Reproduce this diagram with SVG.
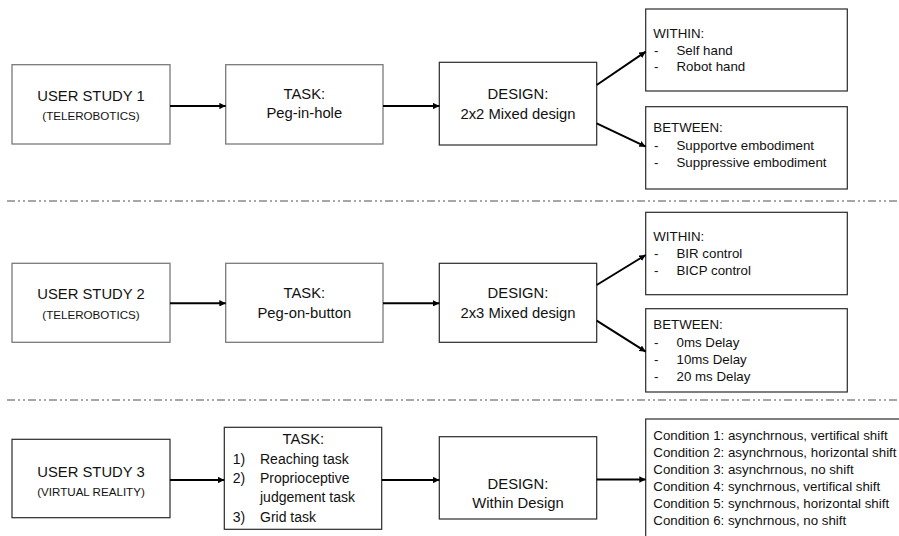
<svg xmlns="http://www.w3.org/2000/svg" width="899" height="536" viewBox="0 0 899 536">
  <defs>
    <marker id="arrow" viewBox="0 0 10 10" refX="10" refY="5" markerWidth="3.2" markerHeight="3.2" orient="auto" markerUnits="strokeWidth">
      <path d="M0,0 L10,5 L0,10 Z" fill="#000"/>
    </marker>
    <style>
      .box-a { fill: #fff; stroke: #7a7a7a; stroke-width: 1.3; }
      .box-b { fill: #fff; stroke: #2a2a2a; stroke-width: 1.2; }
      .sep { stroke: #8a8a8a; stroke-width: 1.3; stroke-dasharray: 8 3 2 3 2 3; fill: none; }
      .link { stroke: #000; stroke-width: 2; fill: none; marker-end: url(#arrow); }
      text { font-family: "Liberation Sans", Arial, sans-serif; fill: #111; }
      .main { font-size: 14.8px; text-anchor: middle; }
      .sub { font-size: 11.6px; text-anchor: middle; }
      .list { font-size: 13.3px; }
      .task { font-size: 14px; }
    </style>
  </defs>

  <!-- section separators -->
  <g id="separators">
    <line class="sep" x1="7" y1="201" x2="899" y2="201"/>
    <line class="sep" x1="7" y1="400" x2="899" y2="400"/>
  </g>

  <!-- study 1 -->
  <g id="study1">
    <rect class="box-a" x="12" y="64.7" width="158" height="79.3"/>
    <text class="main" x="91" y="100.7">USER STUDY 1</text>
    <text class="sub" x="91" y="119.5">(TELEROBOTICS)</text>
  </g>
  <g id="task1">
    <rect class="box-a" x="225.7" y="64.7" width="157.3" height="79.3"/>
    <text class="main" x="304.3" y="99">TASK:</text>
    <text class="main" x="304.3" y="118">Peg-in-hole</text>
  </g>
  <g id="design1">
    <rect class="box-b" x="439.3" y="62.3" width="157.4" height="82.7"/>
    <text class="main" x="518" y="99">DESIGN:</text>
    <text class="main" x="518" y="118.5">2x2 Mixed design</text>
  </g>
  <g id="within1">
    <rect class="box-b" x="645.7" y="9" width="201.6" height="82"/>
    <text class="list" x="653.3" y="38.3">WITHIN:</text>
    <text class="list" x="654" y="54.6">-</text>
    <text class="list" x="676.5" y="54.6">Self hand</text>
    <text class="list" x="654" y="71.3">-</text>
    <text class="list" x="676.5" y="71.3">Robot hand</text>
  </g>
  <g id="between1">
    <rect class="box-b" x="645.7" y="106.7" width="201.6" height="82.3"/>
    <text class="list" x="653.3" y="132">BETWEEN:</text>
    <text class="list" x="654" y="149.5">-</text>
    <text class="list" x="676.5" y="149.5">Supportve embodiment</text>
    <text class="list" x="654" y="166.5">-</text>
    <text class="list" x="676.5" y="166.5">Suppressive embodiment</text>
  </g>

  <!-- study 2 -->
  <g id="study2">
    <rect class="box-a" x="12" y="263.3" width="158" height="79"/>
    <text class="main" x="91" y="299.3">USER STUDY 2</text>
    <text class="sub" x="91" y="319">(TELEROBOTICS)</text>
  </g>
  <g id="task2">
    <rect class="box-a" x="225.7" y="263.3" width="157.3" height="79"/>
    <text class="main" x="304.3" y="298.3">TASK:</text>
    <text class="main" x="304.3" y="317.7">Peg-on-button</text>
  </g>
  <g id="design2">
    <rect class="box-b" x="439.3" y="263.3" width="157.4" height="79"/>
    <text class="main" x="518" y="298.3">DESIGN:</text>
    <text class="main" x="518" y="317.7">2x3 Mixed design</text>
  </g>
  <g id="within2">
    <rect class="box-b" x="645.7" y="212.3" width="201.6" height="82.4"/>
    <text class="list" x="653.3" y="240.7">WITHIN:</text>
    <text class="list" x="654" y="257.5">-</text>
    <text class="list" x="676.5" y="257.5">BIR control</text>
    <text class="list" x="654" y="275">-</text>
    <text class="list" x="676.5" y="275">BICP control</text>
  </g>
  <g id="between2">
    <rect class="box-b" x="645.7" y="308.7" width="201.6" height="83.3"/>
    <text class="list" x="653.3" y="329.3">BETWEEN:</text>
    <text class="list" x="654" y="346.7">-</text>
    <text class="list" x="676.5" y="346.7">0ms Delay</text>
    <text class="list" x="654" y="364">-</text>
    <text class="list" x="676.5" y="364">10ms Delay</text>
    <text class="list" x="654" y="381">-</text>
    <text class="list" x="676.5" y="381">20 ms Delay</text>
  </g>

  <!-- study 3 -->
  <g id="study3">
    <rect class="box-b" x="12" y="439.3" width="158" height="78.4"/>
    <text class="main" x="91" y="477.3">USER STUDY 3</text>
    <text class="sub" x="91" y="495.5">(VIRTUAL REALITY)</text>
  </g>
  <g id="task3">
    <rect class="box-b" x="224.3" y="427.3" width="157.4" height="102"/>
    <text class="main" x="303.3" y="444.3">TASK:</text>
    <text class="task" x="232.7" y="464">1)</text>
    <text class="task" x="260" y="464">Reaching task</text>
    <text class="task" x="232.7" y="483">2)</text>
    <text class="task" x="260" y="483">Proprioceptive</text>
    <text class="task" x="260" y="502">judgement task</text>
    <text class="task" x="232.7" y="521.5">3)</text>
    <text class="task" x="260" y="521.5">Grid task</text>
  </g>
  <g id="design3">
    <rect class="box-b" x="439.3" y="436.7" width="157.4" height="82.3"/>
    <text class="main" x="518" y="488.5">DESIGN:</text>
    <text class="main" x="518" y="507.5">Within Design</text>
  </g>
  <g id="conditions3">
    <rect class="box-b" x="645.7" y="419" width="270" height="130"/>
    <text class="list" x="653.3" y="439.5">Condition 1: asynchrnous, vertifical shift</text>
    <text class="list" x="653.3" y="456.5">Condition 2: asynchrnous, horizontal shift</text>
    <text class="list" x="653.3" y="473.5">Condition 3: asynchrnous, no shift</text>
    <text class="list" x="653.3" y="490.5">Condition 4: synchrnous, vertifical shift</text>
    <text class="list" x="653.3" y="507.5">Condition 5: synchrnous, horizontal shift</text>
    <text class="list" x="653.3" y="524.5">Condition 6: synchrnous, no shift</text>
  </g>

  <!-- connectors -->
  <g id="connectors">
    <line class="link" x1="170" y1="106" x2="225.7" y2="106"/>
    <line class="link" x1="383" y1="106" x2="439.3" y2="106"/>
    <line class="link" x1="596.7" y1="85" x2="645.7" y2="51.7"/>
    <line class="link" x1="596.7" y1="123.3" x2="645.7" y2="146.7"/>

    <line class="link" x1="170" y1="303.3" x2="225.7" y2="303.3"/>
    <line class="link" x1="383" y1="303.3" x2="439.3" y2="303.3"/>
    <line class="link" x1="596.7" y1="285" x2="645.7" y2="255"/>
    <line class="link" x1="596.7" y1="320.7" x2="645.7" y2="351.7"/>

    <line class="link" x1="170" y1="480" x2="224.3" y2="480"/>
    <line class="link" x1="381.7" y1="480" x2="439.3" y2="480"/>
    <line class="link" x1="596.7" y1="479.5" x2="645.7" y2="479.5"/>
  </g>
</svg>
